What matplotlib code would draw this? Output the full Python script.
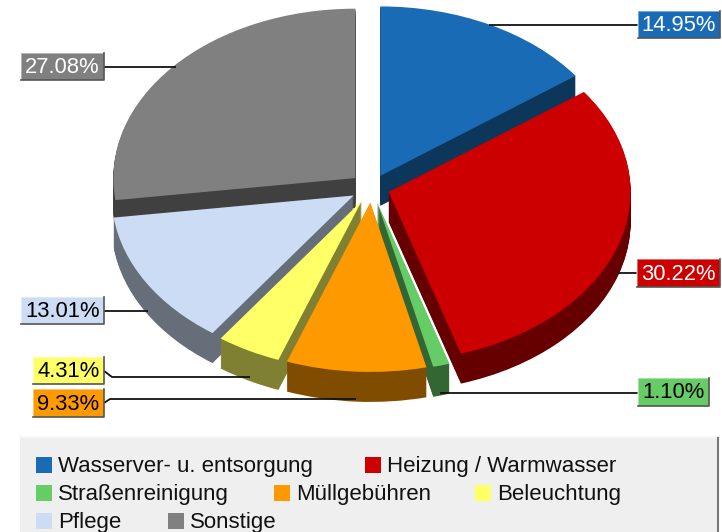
import matplotlib
matplotlib.use('Agg')
import matplotlib.pyplot as plt
from matplotlib.patches import Rectangle
from matplotlib.colors import to_rgb

# Data
categories = ['Wasserver- u. entsorgung', 'Heizung / Warmwasser', 'Straßenreinigung',
              'Müllgebühren', 'Beleuchtung', 'Pflege', 'Sonstige']
values = [14.95, 30.22, 1.10, 9.33, 4.31, 13.01, 27.08]
colors = ['#1a6bb5', '#cc0000', '#66cc66', '#ff9900', '#ffff66', '#ccdcf4', '#808080']
label_colors = ['white', 'white', 'black', 'black', 'black', 'black', 'white']

W, H = 722, 532
SQUASH = 0.70
DEPTH = 30
RADIUS = 242
CX, CY = 371.5, 188

plt.rcParams['font.family'] = ['Liberation Sans', 'DejaVu Sans']
fig = plt.figure(figsize=(W / 100, H / 100), dpi=100, facecolor='white')

# pie axes: y units are stretched so a circle of data comes out as the flat ellipse
ax = fig.add_axes([0, 0, 1, 1])
dark = [tuple(c * 0.5 for c in to_rgb(col)) for col in colors]
explode = [19.5, 18, 20.8, 20.8, 20.8, 20.8, 21.5]

# back slices first, so the front ones cover the walls behind them
draw_rank = [1, 3, 5, 6, 4, 2, 0]


def draw_pie(offset, cols, base):
    wedges, _ = ax.pie(values, colors=cols, explode=explode, radius=RADIUS, startangle=90,
                       counterclock=False, center=(CX, (H - CY - offset) / SQUASH),
                       wedgeprops={'linewidth': 0})
    for w, rank in zip(wedges, draw_rank):
        w.set_zorder(rank * 10 + base)


for d in range(DEPTH, 0, -1):
    draw_pie(d, dark, 1)
draw_pie(0, colors, 2)
ax.set_aspect('auto')
ax.set_xlim(0, W)
ax.set_ylim(0, H / SQUASH)
ax.axis('off')

# overlay in pixel coordinates for labels and legend
ov = fig.add_axes([0, 0, 1, 1])
ov.set_xlim(0, W)
ov.set_ylim(H, 0)
ov.axis('off')
ov.patch.set_alpha(0)

# boxes: x0, x1, y0, y1 and leader polyline, same order as values
boxes = [(638, 720, 11, 38), (637, 720, 259, 287), (638, 709, 378, 406), (33, 104, 389, 417),
         (33, 104, 357, 384), (21, 104, 297, 324), (21, 104, 53, 80)]
leaders = [[(489, 25), (638, 25)], [(617, 273), (637, 273)], [(440, 393), (638, 393)],
           [(104, 403), (110, 399), (356, 399)], [(104, 371), (112, 377), (250, 377)],
           [(104, 311), (148, 311)], [(104, 67), (176, 67)]]

for i, v in enumerate(values):
    x0, x1, y0, y1 = boxes[i]
    xs, ys = zip(*leaders[i])
    ov.plot(xs, ys, color='#111111', lw=1.3, solid_capstyle='butt', zorder=3)
    ov.add_patch(Rectangle((x0, y0), x1 - x0, y1 - y0, fc=colors[i], ec='none', zorder=4))
    ov.plot([x0, x0, x1], [y1, y0, y0], color='#ffffff', alpha=0.5, lw=1.2, zorder=5)
    ov.plot([x0, x1, x1], [y1, y1, y0], color='#555555', lw=1.2, zorder=5)
    ov.text((x0 + x1) / 2, (y0 + y1) / 2 + 1, f'{v:.2f}%', color=label_colors[i], fontsize=15.8,
            ha='center', va='center', zorder=6)

# legend frame
ov.add_patch(Rectangle((20, 437), 698, 100, fc='#efefef', ec='none', zorder=1))
ov.plot([20, 718], [437, 437], color='#f6f6f6', lw=1.5, zorder=2)
ov.plot([718, 718], [438, 532], color='#777777', lw=1.5, zorder=2)

legend_x = [36, 365, 36, 274, 475, 36, 168]
legend_y = [457, 457, 485, 485, 485, 513, 513]
for name, col, x, y in zip(categories, colors, legend_x, legend_y):
    ov.add_patch(Rectangle((x, y), 16, 16, fc=col, ec='none', zorder=3))
    ov.text(x + 22, y + 9.5, name, color='#111111', fontsize=16, ha='left', va='center', zorder=3)

fig.savefig('out.png', dpi=100)
